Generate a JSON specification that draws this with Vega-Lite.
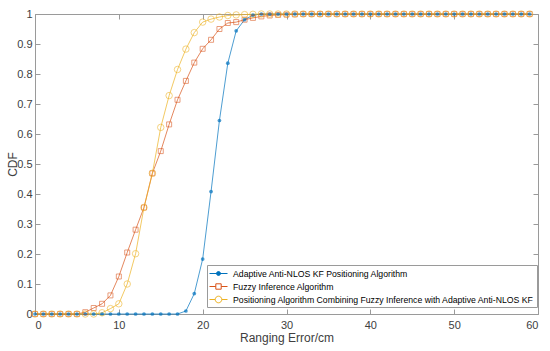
{
  "$schema": "https://vega.github.io/schema/vega-lite/v6.json",
  "width": 503,
  "height": 300,
  "autosize": {"type": "none"},
  "padding": {"left": 35, "top": 14, "right": 12, "bottom": 37},
  "background": "white",
  "config": {
    "font": "Liberation Sans",
    "view": {"stroke": "#9a9a9a", "strokeWidth": 1},
    "axis": {
      "grid": false,
      "domainColor": "#9a9a9a",
      "tickColor": "#9a9a9a",
      "tickSize": -5,
      "labelColor": "#404040",
      "labelFontSize": 11,
      "titleColor": "#404040",
      "titleFontSize": 12,
      "titleFontWeight": "normal"
    }
  },
  "data": {
    "values": [
      {"x": 0, "a": 0, "f": 0, "p": 0},
      {"x": 1, "a": 0, "f": 0, "p": 0},
      {"x": 2, "a": 0, "f": 0, "p": 0},
      {"x": 3, "a": 0, "f": 0, "p": 0},
      {"x": 4, "a": 0, "f": 0, "p": 0},
      {"x": 5, "a": 0, "f": 0, "p": 0},
      {"x": 6, "a": 0, "f": 0.006, "p": 0},
      {"x": 7, "a": 0, "f": 0.02, "p": 0},
      {"x": 8, "a": 0, "f": 0.034, "p": 0.004},
      {"x": 9, "a": 0, "f": 0.062, "p": 0.018},
      {"x": 10, "a": 0, "f": 0.125, "p": 0.034},
      {"x": 11, "a": 0, "f": 0.205, "p": 0.1},
      {"x": 12, "a": 0, "f": 0.281, "p": 0.201},
      {"x": 13, "a": 0, "f": 0.355, "p": 0.355},
      {"x": 14, "a": 0, "f": 0.469, "p": 0.469},
      {"x": 15, "a": 0, "f": 0.543, "p": 0.622},
      {"x": 16, "a": 0, "f": 0.632, "p": 0.728},
      {"x": 17, "a": 0, "f": 0.714, "p": 0.815},
      {"x": 18, "a": 0.01, "f": 0.777, "p": 0.883},
      {"x": 19, "a": 0.068, "f": 0.838, "p": 0.938},
      {"x": 20, "a": 0.183, "f": 0.884, "p": 0.973},
      {"x": 21, "a": 0.408, "f": 0.914, "p": 0.983},
      {"x": 22, "a": 0.645, "f": 0.95, "p": 0.99},
      {"x": 23, "a": 0.836, "f": 0.97, "p": 0.995},
      {"x": 24, "a": 0.944, "f": 0.973, "p": 0.997},
      {"x": 25, "a": 0.981, "f": 0.981, "p": 0.998},
      {"x": 26, "a": 0.996, "f": 0.987, "p": 0.999},
      {"x": 27, "a": 1, "f": 0.992, "p": 1},
      {"x": 28, "a": 1, "f": 0.995, "p": 1},
      {"x": 29, "a": 1, "f": 0.997, "p": 1},
      {"x": 30, "a": 1, "f": 0.998, "p": 1},
      {"x": 31, "a": 1, "f": 0.999, "p": 1},
      {"x": 32, "a": 1, "f": 1, "p": 1},
      {"x": 33, "a": 1, "f": 1, "p": 1},
      {"x": 34, "a": 1, "f": 1, "p": 1},
      {"x": 35, "a": 1, "f": 1, "p": 1},
      {"x": 36, "a": 1, "f": 1, "p": 1},
      {"x": 37, "a": 1, "f": 1, "p": 1},
      {"x": 38, "a": 1, "f": 1, "p": 1},
      {"x": 39, "a": 1, "f": 1, "p": 1},
      {"x": 40, "a": 1, "f": 1, "p": 1},
      {"x": 41, "a": 1, "f": 1, "p": 1},
      {"x": 42, "a": 1, "f": 1, "p": 1},
      {"x": 43, "a": 1, "f": 1, "p": 1},
      {"x": 44, "a": 1, "f": 1, "p": 1},
      {"x": 45, "a": 1, "f": 1, "p": 1},
      {"x": 46, "a": 1, "f": 1, "p": 1},
      {"x": 47, "a": 1, "f": 1, "p": 1},
      {"x": 48, "a": 1, "f": 1, "p": 1},
      {"x": 49, "a": 1, "f": 1, "p": 1},
      {"x": 50, "a": 1, "f": 1, "p": 1},
      {"x": 51, "a": 1, "f": 1, "p": 1},
      {"x": 52, "a": 1, "f": 1, "p": 1},
      {"x": 53, "a": 1, "f": 1, "p": 1},
      {"x": 54, "a": 1, "f": 1, "p": 1},
      {"x": 55, "a": 1, "f": 1, "p": 1},
      {"x": 56, "a": 1, "f": 1, "p": 1},
      {"x": 57, "a": 1, "f": 1, "p": 1},
      {"x": 58, "a": 1, "f": 1, "p": 1},
      {"x": 59, "a": 1, "f": 1, "p": 1}
    ]
  },
  "transform": [{"fold": ["a", "f", "p"], "as": ["s", "v"]}],
  "resolve": {"axis": {"x": "independent", "y": "independent"}},
  "layer": [
    {
      "mark": {"type": "line", "strokeWidth": 0.7},
      "encoding": {
        "x": {
          "field": "x", "type": "quantitative",
          "scale": {"domain": [0, 60], "nice": false},
          "axis": {"values": [0, 10, 20, 30, 40, 50, 60], "title": "Ranging Error/cm", "labelPadding": 10, "titlePadding": 2}
        },
        "y": {
          "field": "v", "type": "quantitative",
          "scale": {"domain": [0, 1], "nice": false},
          "axis": {"values": [0, 0.1, 0.2, 0.3, 0.4, 0.5, 0.6, 0.7, 0.8, 0.9, 1], "format": "~g", "title": "CDF", "labelPadding": 8, "titlePadding": -3}
        },
        "color": {
          "field": "s", "type": "nominal",
          "scale": {"domain": ["a", "f", "p"], "range": ["#0072BD", "#D95319", "#EDB120"]},
          "legend": {
            "orient": "none",
            "legendX": 172,
            "legendY": 251,
            "title": null,
            "strokeColor": "#9a9a9a",
            "fillColor": "white",
            "padding": 2,
            "rowPadding": 1,
            "labelFontSize": 8.7,
            "labelColor": "#000000",
            "labelLimit": 0,
            "symbolSize": 144,
            "symbolStrokeWidth": 1,
            "symbolOffset": 3,
            "labelOffset": 8,
            "labelExpr": "datum.value === 'a' ? 'Adaptive Anti-NLOS KF Positioning Algorithm' : datum.value === 'f' ? 'Fuzzy Inference Algorithm' : 'Positioning Algorithm Combining Fuzzy Inference with Adaptive Anti-NLOS KF'",
            "encode": {
              "symbols": {
                "update": {
                  "shape": {"signal": "datum.value === 'a' ? 'M-1.5,0H1.5M0.33,0A0.33,0.33 0 1,1 -0.33,0A0.33,0.33 0 1,1 0.33,0Z' : datum.value === 'f' ? 'M-1.5,0H-0.45M0.45,0H1.5M-0.45,-0.45H0.45V0.45H-0.45Z' : 'M-1.5,0H-0.55M0.55,0H1.5M0.55,0A0.55,0.55 0 1,1 -0.55,0A0.55,0.55 0 1,1 0.55,0Z'"},
                  "fill": {"signal": "datum.value === 'a' ? '#0072BD' : 'transparent'"}
                }
              }
            }
          }
        }
      }
    },
    {
      "transform": [{"filter": "datum.s === 'a'"}],
      "mark": {"type": "point", "shape": "circle", "size": 14, "filled": true, "color": "#0072BD"},
      "encoding": {
        "x": {
          "field": "x", "type": "quantitative",
          "scale": {"domain": [0, 60], "nice": false},
          "axis": {"orient": "top", "values": [0, 10, 20, 30, 40, 50, 60], "labels": false, "title": null, "domain": false}
        },
        "y": {
          "field": "v", "type": "quantitative",
          "scale": {"domain": [0, 1], "nice": false},
          "axis": {"orient": "right", "values": [0, 0.1, 0.2, 0.3, 0.4, 0.5, 0.6, 0.7, 0.8, 0.9, 1], "labels": false, "title": null, "domain": false}
        }
      }
    },
    {
      "transform": [{"filter": "datum.s === 'f'"}],
      "mark": {"type": "point", "shape": "square", "size": 25, "filled": false, "color": "#D95319", "strokeWidth": 0.8},
      "encoding": {
        "x": {"field": "x", "type": "quantitative", "scale": {"domain": [0, 60], "nice": false}, "axis": null},
        "y": {"field": "v", "type": "quantitative", "scale": {"domain": [0, 1], "nice": false}, "axis": null}
      }
    },
    {
      "transform": [{"filter": "datum.s === 'p'"}],
      "mark": {"type": "point", "shape": "circle", "size": 42, "filled": false, "color": "#EDB120", "strokeWidth": 0.8},
      "encoding": {
        "x": {"field": "x", "type": "quantitative", "scale": {"domain": [0, 60], "nice": false}, "axis": null},
        "y": {"field": "v", "type": "quantitative", "scale": {"domain": [0, 1], "nice": false}, "axis": null}
      }
    }
  ]
}
